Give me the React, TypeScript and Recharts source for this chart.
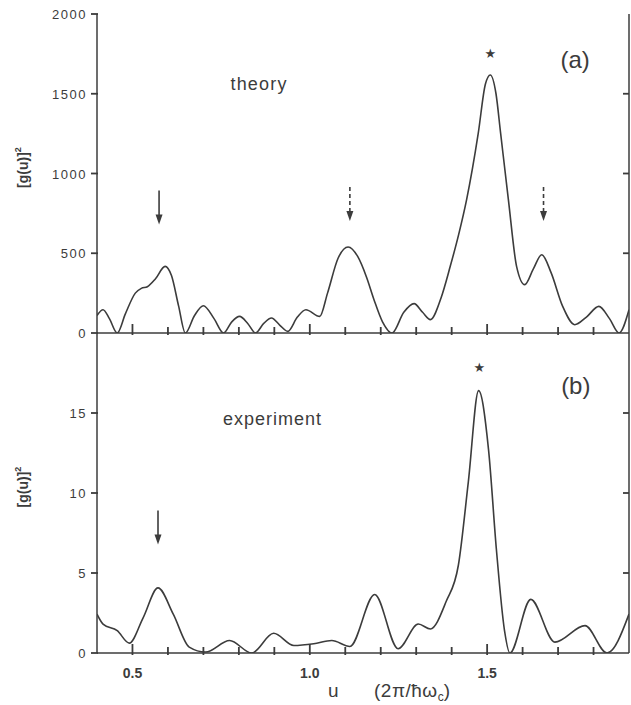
import { LineChart, Line, XAxis, YAxis, ReferenceDot } from "recharts";

// u in units of 2π/ħωc
const uTheory = [
  0.4, 0.417, 0.435, 0.457, 0.48, 0.508, 0.525, 0.542, 0.565, 0.592, 0.61, 0.63, 0.649, 0.675, 0.7, 0.73,
  0.757, 0.78, 0.802, 0.825, 0.847, 0.87, 0.892, 0.915, 0.938, 0.965, 0.989, 1.028, 1.05, 1.08, 1.108, 1.135,
  1.16, 1.181, 1.205, 1.232, 1.265, 1.294, 1.318, 1.34, 1.37, 1.396, 1.42, 1.442, 1.475, 1.495, 1.509, 1.525,
  1.538, 1.56, 1.583, 1.606, 1.63, 1.654, 1.68, 1.713, 1.747, 1.78, 1.815, 1.845, 1.872, 1.9,
];
const gTheory = [
  110, 146, 90, 0, 120, 250, 280, 290, 340, 418, 360, 170, 0, 110, 171, 90,
  0, 70, 104, 60, 0, 60, 94, 50, 10, 100, 146, 104, 250, 470, 539, 480,
  350, 209, 70, 0, 130, 184, 130, 84, 220, 418, 620, 835, 1253, 1560, 1618, 1500,
  1253, 835, 418, 303, 400, 491, 380, 167, 52, 100, 167, 90, 0, 146,
];

const uExp = [
  0.4, 0.417, 0.457, 0.491, 0.53, 0.572, 0.615, 0.66, 0.706, 0.774, 0.836, 0.898, 0.955, 1.011, 1.062, 1.113,
  1.183, 1.249, 1.306, 1.34, 1.385, 1.419, 1.447, 1.476, 1.504, 1.526, 1.549, 1.564, 1.623, 1.691, 1.776, 1.838,
  1.9,
];
const gExp = [
  2.43, 1.81, 1.4, 0.62, 2.2, 4.07, 2.43, 0.37, 0.06, 0.78, 0, 1.23, 0.47, 0.58, 0.78, 0.41,
  3.66, 0.27, 1.81, 1.5, 3.25, 5.5, 10.7, 16.4, 12.7, 6.5, 1.4, 0, 3.35, 0.68, 1.71, 0,
  2.43,
];

const uTicks = [0.5, 0.6, 0.7, 0.8, 0.9, 1.0, 1.1, 1.2, 1.3, 1.4, 1.5, 1.6, 1.7, 1.8];
const uLabels = [0.5, 1.0, 1.5];
const theoryTicks = [0, 500, 1000, 1500, 2000];
const theoryRight = [500, 1000, 1500];
const expTicks = [0, 5, 10, 15];
const expRight = [5, 10, 15];

const theoryData = uTheory.map((u, i) => ({ u, g: gTheory[i] }));
const expData = uExp.map((u, i) => ({ u, g: gExp[i] }));

const INK = "#3c3c3c";
const FONT = "'Liberation Sans', Arial, sans-serif";

const isMajor = (v: number) => uLabels.some((m) => Math.abs(m - v) < 1e-6);

const bottomTick = (labels: boolean) => (p: any) => {
  const v = p.payload.value;
  const major = isMajor(v);
  return (
    <g>
      <line x1={p.x} x2={p.x} y1={p.y + 2} y2={p.y - (major ? 9 : 6)} stroke={INK} strokeWidth={1.8} />
      {labels && major && (
        <text x={p.x} y={p.y + 25} textAnchor="middle" fontFamily={FONT} fontSize={14} fontWeight="bold" fill={INK}>
          {v.toFixed(1)}
        </text>
      )}
    </g>
  );
};

const topTick = (p: any) => {
  const major = isMajor(p.payload.value);
  return (
    <g>
      <line x1={p.x} x2={p.x} y1={p.y - 1} y2={p.y + (major ? 9 : 6)} stroke={INK} strokeWidth={1.8} />
    </g>
  );
};

const leftTick = (p: any) => (
  <g>
    <line x1={p.x - 6} x2={p.x + 1} y1={p.y} y2={p.y} stroke={INK} strokeWidth={1.8} />
    <text x={p.x - 10} y={p.y + 5} textAnchor="end" fontFamily={FONT} fontSize={13} letterSpacing={1.5} fill={INK}>
      {p.payload.value}
    </text>
  </g>
);

const rightTick = (p: any) => (
  <g>
    <line x1={p.x - 6} x2={p.x} y1={p.y} y2={p.y} stroke={INK} strokeWidth={1.8} />
  </g>
);

const yLabel = (p: any) => {
  const vb = p.viewBox;
  const cx = 24;
  const cy = vb.y + vb.height / 2 - 6;
  return (
    <text x={cx} y={cy} transform={`rotate(-90 ${cx} ${cy})`} textAnchor="middle" dominantBaseline="middle" fontFamily={FONT} fontSize={14} fontWeight="bold" fill={INK}>
      [g(u)]<tspan dy={-5} fontSize={9}>2</tspan>
    </text>
  );
};

// bottom chart starts at page y = 333, so y is local to that svg
const xLabel = () => (
  <text y={364} fontFamily={FONT} fontSize={19} fill={INK}>
    <tspan x={328}>u</tspan>
    <tspan x={374} letterSpacing={0.5}>(2π/ħω</tspan>
    <tspan dy={4} fontSize={12}>c</tspan>
    <tspan dy={-4}>)</tspan>
  </text>
);

const arrow = (dashed: boolean) => (p: any) => (
  <g>
    <line x1={p.cx} x2={p.cx} y1={p.cy} y2={p.cy + 26} stroke={INK} strokeWidth={1.6} strokeDasharray={dashed ? "4 3" : undefined} />
    <polygon points={`${p.cx - 3.5},${p.cy + 24} ${p.cx + 3.5},${p.cy + 24} ${p.cx},${p.cy + 34}`} fill={INK} />
  </g>
);

const note = (text: string, size: number, spacing = 0) => (p: any) => (
  <text x={p.cx} y={p.cy} textAnchor="middle" fontFamily={FONT} fontSize={size} letterSpacing={spacing} fill={INK}>
    {text}
  </text>
);

const star = (p: any) => (
  <text x={p.cx} y={p.cy + 5} textAnchor="middle" fontFamily="'DejaVu Sans', sans-serif" fontSize={13} fill={INK}>
    ★
  </text>
);

const frame = { stroke: INK, strokeWidth: 1.5 };

export default function App() {
  return (
    <div style={{ position: "absolute", left: 0, top: 0, width: 631, height: 705, background: "#fff" }}>
      <div style={{ position: "absolute", left: 0, top: 0 }}>
        <LineChart width={631} height={346} data={theoryData} margin={{ top: 14, right: 0, bottom: 12, left: 0 }}>
          <XAxis xAxisId="x" dataKey="u" type="number" domain={[0.4, 1.9]} allowDataOverflow ticks={uTicks} interval={0} height={1} tickSize={0} tickMargin={0} tickLine={false} axisLine={frame} tick={bottomTick(false)} />
          <XAxis xAxisId="t" orientation="top" dataKey="u" type="number" domain={[0.4, 1.9]} allowDataOverflow ticks={uTicks} interval={0} height={0} tickSize={0} tickMargin={0} tickLine={false} axisLine={frame} tick={topTick} />
          <YAxis yAxisId="l" type="number" domain={[0, 2000]} allowDataOverflow ticks={theoryTicks} interval={0} width={97} tickSize={0} tickMargin={0} tickLine={false} axisLine={frame} tick={leftTick} label={{ content: yLabel }} />
          <YAxis yAxisId="r" orientation="right" type="number" domain={[0, 2000]} allowDataOverflow ticks={theoryRight} interval={0} width={2} tickSize={0} tickMargin={0} tickLine={false} axisLine={frame} tick={rightTick} />
          <Line xAxisId="x" yAxisId="l" dataKey="g" type="monotone" stroke={INK} strokeWidth={1.6} dot={false} isAnimationActive={false} />
          <ReferenceDot xAxisId="x" yAxisId="l" x={0.575} y={894} shape={arrow(false)} />
          <ReferenceDot xAxisId="x" yAxisId="l" x={1.113} y={915} shape={arrow(true)} />
          <ReferenceDot xAxisId="x" yAxisId="l" x={1.659} y={915} shape={arrow(true)} />
          <ReferenceDot xAxisId="x" yAxisId="l" x={1.509} y={1755} shape={star} />
          <ReferenceDot xAxisId="x" yAxisId="l" x={0.857} y={1523} shape={note("theory", 18, 1.2)} />
          <ReferenceDot xAxisId="x" yAxisId="l" x={1.748} y={1660} shape={note("(a)", 24)} />
        </LineChart>
      </div>
      <div style={{ position: "absolute", left: 0, top: 333 }}>
        <LineChart width={631} height={372} data={expData} margin={{ top: 0, right: 0, bottom: 0, left: 0 }}>
          <XAxis xAxisId="x" dataKey="u" type="number" domain={[0.4, 1.9]} allowDataOverflow ticks={uTicks} interval={0} height={52} tickSize={0} tickMargin={0} tickLine={false} axisLine={frame} tick={bottomTick(true)} label={{ content: xLabel }} />
          <XAxis xAxisId="t" orientation="top" dataKey="u" type="number" domain={[0.4, 1.9]} allowDataOverflow ticks={uTicks} interval={0} height={0} tickSize={0} tickMargin={0} tickLine={false} axisLine={frame} tick={topTick} />
          <YAxis yAxisId="l" type="number" domain={[0, 20]} allowDataOverflow ticks={expTicks} interval={0} width={97} tickSize={0} tickMargin={0} tickLine={false} axisLine={frame} tick={leftTick} label={{ content: yLabel }} />
          <YAxis yAxisId="r" orientation="right" type="number" domain={[0, 20]} allowDataOverflow ticks={expRight} interval={0} width={2} tickSize={0} tickMargin={0} tickLine={false} axisLine={frame} tick={rightTick} />
          <Line xAxisId="x" yAxisId="l" dataKey="g" type="monotone" stroke={INK} strokeWidth={1.6} dot={false} isAnimationActive={false} />
          <ReferenceDot xAxisId="x" yAxisId="l" x={0.572} y={8.9} shape={arrow(false)} />
          <ReferenceDot xAxisId="x" yAxisId="l" x={1.478} y={17.9} shape={star} />
          <ReferenceDot xAxisId="x" yAxisId="l" x={0.895} y={14.25} shape={note("experiment", 18, 1)} />
          <ReferenceDot xAxisId="x" yAxisId="l" x={1.75} y={16.2} shape={note("(b)", 24)} />
        </LineChart>
      </div>
    </div>
  );
}
